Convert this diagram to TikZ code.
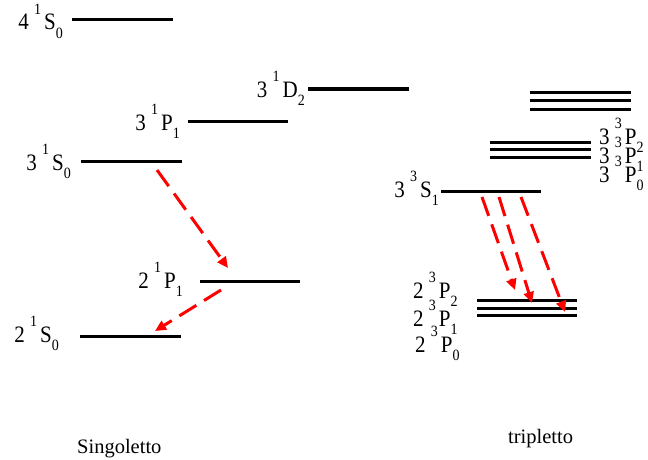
\documentclass[tikz,border=0pt]{standalone}
\usepackage{fontspec}
\setmainfont{Liberation Serif}
\usetikzlibrary{arrows.meta}
\newcommand\upx[1]{\raisebox{0.66em}{\fontsize{14}{14}\selectfont #1}}
\newcommand\dnx[1]{\raisebox{-0.38em}{\fontsize{14}{14}\selectfont #1}}
\newcommand\lev[4]{\scalebox{1}[1.12]{#1 \upx{#2}\hspace{3pt}#3\dnx{#4}}}
\begin{document}
\begin{tikzpicture}[x=1pt,y=-1pt,
  level/.style={line width=3pt},
  lab/.style={inner sep=0pt,font=\fontsize{21}{21}\selectfont},
  captext/.style={inner sep=0pt,font=\fontsize{20.5}{20.5}\selectfont},
  trans/.style={draw=red,line width=3pt,dash pattern=on 20pt off 9pt,-{Triangle[length=11pt,width=10pt]}}]
\useasboundingbox (0,0) rectangle (648,460);
% singlet levels
\coordinate (a1) at (72,20);  \coordinate (a2) at (173,20);
\coordinate (b1) at (81,161); \coordinate (b2) at (182,161);
\coordinate (c1) at (188,121); \coordinate (c2) at (288,121);
\coordinate (d1) at (308,89); \coordinate (d2) at (409,89);
\coordinate (e1) at (200,281); \coordinate (e2) at (300,281);
\coordinate (f1) at (80,336); \coordinate (f2) at (181,336);
\draw[level] (a1) -- (a2);
\draw[level] (b1) -- (b2);
\draw[level] (c1) -- (c2);
\draw[level] (d1) -- (d2);
\draw[level] (e1) -- (e2);
\draw[level] (f1) -- (f2);
% triplet levels
\foreach \y [count=\i] in {92,100,109}{
  \coordinate (t\i a) at (530,\y); \coordinate (t\i b) at (631,\y);
  \draw[level] (t\i a) -- (t\i b);}
\foreach \y [count=\i] in {142,149,157}{
  \coordinate (p\i a) at (490,\y); \coordinate (p\i b) at (591,\y);
  \draw[level] (p\i a) -- (p\i b);}
\coordinate (s1) at (441,191); \coordinate (s2) at (541,191);
\draw[level] (s1) -- (s2);
\foreach \y [count=\i] in {300,308,315}{
  \coordinate (q\i a) at (477,\y); \coordinate (q\i b) at (577,\y);
  \draw[level] (q\i a) -- (q\i b);}
% labels
\node[lab,anchor=base east] (la) at (63,30) {\lev{4}{1}{S}{0}};
\node[lab,anchor=base east] (lb) at (71,170) {\lev{3}{1}{S}{0}};
\node[lab,anchor=base east] (lc) at (180,130) {\lev{3}{1}{P}{1}};
\node[lab,anchor=base east] (ld) at (305,97) {\lev{3}{1}{D}{2}};
\node[lab,anchor=base east] (le) at (183,288) {\lev{2}{1}{P}{1}};
\node[lab,anchor=base east] (lf) at (59,342) {\lev{2}{1}{S}{0}};
\node[lab,anchor=base east] (ls) at (439,197) {\lev{3}{3}{S}{1}};
\node[lab,anchor=base west] (lp2) at (599,144) {\lev{3}{3}{P}{2}};
\node[lab,anchor=base west] (lp1) at (599,163) {\lev{3}{3}{P}{1}};
\node[lab,anchor=base west] (lp0) at (599,182) {\lev{3}{3}{P}{0}};
\node[lab,anchor=base west] (lq2) at (413,298) {\lev{2}{3}{P}{2}};
\node[lab,anchor=base west] (lq1) at (413,326) {\lev{2}{3}{P}{1}};
\node[lab,anchor=base west] (lq0) at (415,352) {\lev{2}{3}{P}{0}};
\node[captext,anchor=base west] (sing) at (77,453) {Singoletto};
\node[captext,anchor=base west] (trip) at (508,443) {tripletto};
% transitions
\coordinate (r1s) at (157,170); \coordinate (r1e) at (228,268);
\coordinate (r2s) at (221,290); \coordinate (r2e) at (155,331);
\coordinate (u1s) at (482,197); \coordinate (u1e) at (515,290);
\coordinate (u2s) at (499,197); \coordinate (u2e) at (532,303);
\coordinate (u3s) at (521,197); \coordinate (u3e) at (565,312);
\draw[trans] (r1s) -- (r1e);
\draw[trans] (r2s) -- (r2e);
\draw[trans] (u1s) -- (u1e);
\draw[trans] (u2s) -- (u2e);
\draw[trans] (u3s) -- (u3e);
\end{tikzpicture}
\end{document}
